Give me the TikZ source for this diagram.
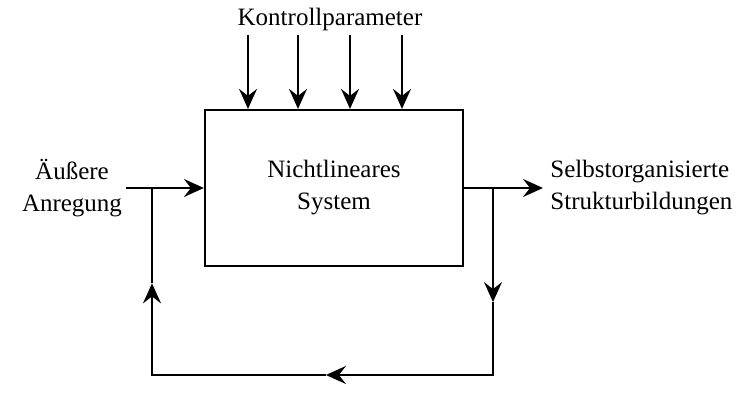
\documentclass[tikz,border=0pt]{standalone}
\usepackage{fontspec}
\setmainfont{Liberation Serif}
\usetikzlibrary{arrows.meta,calc}

\begin{document}
\begin{tikzpicture}[
    x=0.5pt,y=-0.5pt,
    >={Stealth[length=10pt,width=9pt,inset=3.5pt]},
    every node/.style={font=\fontsize{12.5}{16}\selectfont},
    box/.style={draw,line width=1.1pt,minimum width=129pt,minimum height=78pt,align=center,inner sep=0pt},
    txt/.style={inner sep=0pt},
    flow/.style={line width=0.8pt}
]
\useasboundingbox (0,0) rectangle (740,405);

\node[box] (sys) at (334,188) {Nichtlineares\\System};
\node[txt] (ctrl) at (330,19) {Kontrollparameter};
\node[txt,align=center] (in) at (72,188) {Äußere\\Anregung};
\node[txt,align=left,anchor=west] (out) at (550,188) {Selbstorganisierte\\Strukturbildungen};

% Kontrollparameter
\foreach \i/\x in {1/248,2/298,3/350,4/402} {
    \coordinate (k\i) at (\x,35);
    \draw[flow,->] (k\i) -- (k\i |- sys.north);
}

% Ein- und Ausgang
\coordinate (a) at (126,188);
\coordinate (b) at (543,188);
\draw[flow,->] (a) -- (sys.west);
\draw[flow,->] (sys.east) -- (b);

% Rueckkopplung
\coordinate (jr) at (493,188);
\coordinate (br) at (493,375);
\coordinate (bl) at (152,375);
\coordinate (jl) at (152,188);
\coordinate (dn) at ($(jr)!0.61!(br)$);
\coordinate (lf) at ($(br)!0.49!(bl)$);
\coordinate (up) at ($(bl)!0.49!(jl)$);
\draw[flow,->] (jr) -- (dn);
\draw[flow,->] (dn) -- (br) -- (lf);
\draw[flow,->] (lf) -- (bl) -- (up);
\draw[flow] (up) -- (jl);
\end{tikzpicture}
\end{document}
